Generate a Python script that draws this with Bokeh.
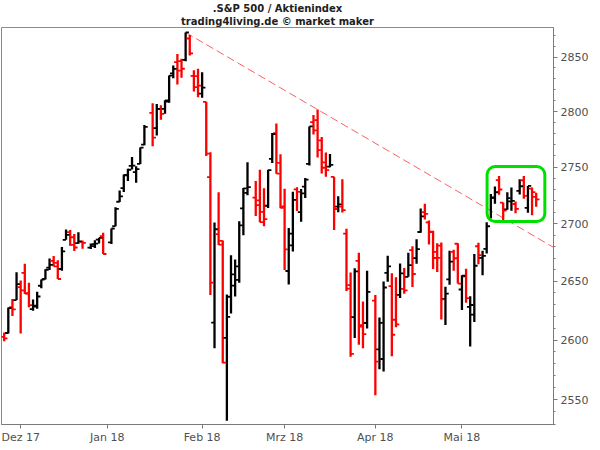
import numpy as np
from bokeh.plotting import figure
from bokeh.models import Range1d, FixedTicker, Title, BoxAnnotation, PrintfTickFormatter
from bokeh.embed import file_html
from bokeh.resources import INLINE

# ---------------- data ----------------
dates = [
    "2017-11-27", "2017-11-28", "2017-11-29", "2017-11-30",
    "2017-12-01", "2017-12-04", "2017-12-05", "2017-12-06", "2017-12-07", "2017-12-08",
    "2017-12-11", "2017-12-12", "2017-12-13", "2017-12-14", "2017-12-15",
    "2017-12-18", "2017-12-19", "2017-12-20", "2017-12-21", "2017-12-22",
    "2017-12-26", "2017-12-27", "2017-12-28", "2017-12-29",
    "2018-01-02", "2018-01-03", "2018-01-04", "2018-01-05",
    "2018-01-08", "2018-01-09", "2018-01-10", "2018-01-11", "2018-01-12",
    "2018-01-16", "2018-01-17", "2018-01-18", "2018-01-19",
    "2018-01-22", "2018-01-23", "2018-01-24", "2018-01-25", "2018-01-26",
    "2018-01-29", "2018-01-30", "2018-01-31",
    "2018-02-01", "2018-02-02",
    "2018-02-05", "2018-02-06", "2018-02-07", "2018-02-08", "2018-02-09",
    "2018-02-12", "2018-02-13", "2018-02-14", "2018-02-15", "2018-02-16",
    "2018-02-20", "2018-02-21", "2018-02-22", "2018-02-23",
    "2018-02-26", "2018-02-27", "2018-02-28",
    "2018-03-01", "2018-03-02",
    "2018-03-05", "2018-03-06", "2018-03-07", "2018-03-08", "2018-03-09",
    "2018-03-12", "2018-03-13", "2018-03-14", "2018-03-15", "2018-03-16",
    "2018-03-19", "2018-03-20", "2018-03-21", "2018-03-22", "2018-03-23",
    "2018-03-26", "2018-03-27", "2018-03-28", "2018-03-29",
    "2018-04-02", "2018-04-03", "2018-04-04", "2018-04-05", "2018-04-06",
    "2018-04-09", "2018-04-10", "2018-04-11", "2018-04-12", "2018-04-13",
    "2018-04-16", "2018-04-17", "2018-04-18", "2018-04-19", "2018-04-20",
    "2018-04-23", "2018-04-24", "2018-04-25", "2018-04-26", "2018-04-27",
    "2018-04-30",
    "2018-05-01", "2018-05-02", "2018-05-03", "2018-05-04",
    "2018-05-07", "2018-05-08", "2018-05-09", "2018-05-10", "2018-05-11",
    "2018-05-14", "2018-05-15", "2018-05-16", "2018-05-17", "2018-05-18",
    "2018-05-21", "2018-05-22", "2018-05-23", "2018-05-24", "2018-05-25",
]

opens = [
    2602.66, 2605.94, 2627.82, 2633.93,
    2645.10, 2657.19, 2639.78, 2626.24, 2628.38, 2646.21, 2652.19, 2661.73, 2667.59, 2665.87,
    2660.63, 2685.92, 2692.71, 2688.18, 2683.02, 2684.22, 2679.09, 2682.10, 2686.10, 2689.15,
    2683.73, 2697.85, 2719.31, 2731.33, 2742.67, 2751.15, 2745.55, 2752.97, 2770.18, 2798.96,
    2784.99, 2802.40, 2802.60, 2809.16, 2835.05, 2845.42, 2846.24, 2847.48, 2867.23, 2832.74,
    2832.41,
    2816.45, 2808.92, 2741.06, 2614.78, 2690.95, 2685.01, 2601.78, 2636.75, 2646.27, 2651.21,
    2713.46, 2727.14, 2722.99, 2720.53, 2710.42, 2715.80, 2757.37, 2780.45, 2753.78,
    2715.22, 2658.89, 2681.06, 2730.18, 2710.18, 2732.75, 2752.91, 2790.54, 2792.31, 2774.06,
    2754.27, 2750.57, 2741.38, 2715.05, 2714.99, 2691.36, 2646.71, 2619.35, 2667.57, 2611.30,
    2614.41,
    2633.45, 2592.17, 2584.04, 2657.36, 2645.82, 2617.18, 2638.41, 2643.56, 2653.83, 2676.90,
    2670.10, 2692.74, 2710.11, 2701.16, 2692.56, 2675.40, 2680.80, 2634.92, 2651.65, 2675.47,
    2682.51,
    2642.96, 2654.24, 2628.08, 2621.45, 2680.34, 2670.26, 2678.12, 2705.02, 2722.70, 2738.47,
    2718.59, 2712.62, 2719.71, 2717.35, 2729.00, 2738.34, 2713.98, 2730.94, 2723.60,
]

highs = [
    2606.41, 2627.69, 2634.89, 2657.74,
    2650.62, 2665.19, 2648.72, 2634.41, 2640.99, 2651.65, 2660.33, 2669.72, 2671.88, 2668.09,
    2679.63, 2694.97, 2694.44, 2691.01, 2692.64, 2685.35, 2682.74, 2685.64, 2687.66, 2692.12,
    2695.89, 2714.37, 2729.29, 2743.45, 2748.51, 2759.14, 2750.80, 2767.56, 2787.85, 2807.54,
    2807.04, 2805.83, 2810.33, 2833.03, 2842.24, 2852.97, 2848.56, 2872.87, 2870.62, 2837.75,
    2839.26,
    2835.96, 2808.92, 2763.39, 2701.04, 2727.67, 2685.27, 2638.67, 2672.61, 2668.84, 2702.10,
    2731.51, 2754.42, 2737.60, 2747.75, 2731.26, 2747.76, 2780.64, 2789.15, 2761.52,
    2730.89, 2696.25, 2728.09, 2732.08, 2730.60, 2740.45, 2786.57, 2796.98, 2801.90, 2777.11,
    2763.03, 2761.85, 2741.38, 2724.22, 2739.14, 2695.68, 2657.67, 2661.36, 2674.78, 2632.65,
    2659.07,
    2638.30, 2619.14, 2649.86, 2672.08, 2656.88, 2653.55, 2665.45, 2661.43, 2674.72, 2680.26,
    2686.49, 2713.34, 2717.49, 2702.84, 2693.94, 2682.86, 2683.55, 2645.30, 2676.48, 2677.35,
    2682.87,
    2655.27, 2660.87, 2637.14, 2673.61, 2683.35, 2676.34, 2701.27, 2726.11, 2732.86, 2742.10,
    2718.59, 2727.76, 2731.96, 2719.50, 2739.19, 2742.24, 2733.33, 2731.97, 2727.36,
]

lows = [
    2598.87, 2605.44, 2620.32, 2633.93,
    2605.52, 2639.03, 2627.73, 2624.75, 2626.53, 2644.10, 2651.47, 2659.78, 2662.85, 2652.01,
    2659.14, 2685.92, 2680.74, 2676.11, 2682.40, 2678.13, 2677.96, 2678.91, 2682.69, 2673.61,
    2682.36, 2697.77, 2719.07, 2727.92, 2737.60, 2747.86, 2736.06, 2752.78, 2769.64, 2768.64,
    2778.38, 2792.56, 2798.08, 2808.12, 2830.59, 2824.81, 2830.94, 2846.18, 2851.48, 2818.27,
    2813.04,
    2812.70, 2759.97, 2638.17, 2593.07, 2681.33, 2580.56, 2532.69, 2622.45, 2637.08, 2648.87,
    2689.82, 2725.11, 2706.76, 2701.29, 2697.77, 2713.74, 2753.78, 2744.22, 2713.54,
    2659.65, 2647.32, 2675.75, 2711.26, 2701.74, 2722.65, 2751.54, 2779.26, 2758.68, 2744.38,
    2741.47, 2749.97, 2694.59, 2710.05, 2709.79, 2641.59, 2585.89, 2601.81, 2596.12, 2593.06,
    2609.72,
    2553.80, 2575.49, 2573.61, 2649.58, 2586.27, 2610.79, 2635.78, 2639.25, 2653.83, 2645.05,
    2665.16, 2692.05, 2703.63, 2681.90, 2660.61, 2657.99, 2617.32, 2612.67, 2647.16, 2659.01,
    2648.04,
    2625.41, 2631.70, 2594.62, 2615.32, 2664.70, 2655.20, 2674.14, 2704.54, 2717.45, 2725.47,
    2701.91, 2712.17, 2711.36, 2709.18, 2725.70, 2721.88, 2709.54, 2707.38, 2714.99,
]

closes = [
    2601.42, 2627.04, 2626.07, 2647.58,
    2642.22, 2639.44, 2629.57, 2629.27, 2636.98, 2651.50, 2659.99, 2664.11, 2662.85, 2652.01,
    2675.81, 2690.16, 2681.47, 2679.25, 2684.57, 2683.34, 2680.50, 2682.62, 2687.54, 2673.61,
    2695.81, 2713.06, 2723.99, 2743.15, 2747.71, 2751.29, 2748.23, 2767.56, 2786.24, 2776.42,
    2802.56, 2798.03, 2810.30, 2832.97, 2839.13, 2837.54, 2839.25, 2872.87, 2853.53, 2822.43,
    2823.81,
    2821.98, 2762.13, 2648.94, 2695.14, 2681.66, 2581.00, 2619.55, 2656.00, 2662.94, 2698.63,
    2731.20, 2732.22, 2716.26, 2701.33, 2703.96, 2747.30, 2779.60, 2744.28, 2713.83,
    2677.67, 2691.25, 2720.94, 2728.12, 2726.80, 2738.97, 2786.57, 2783.02, 2765.31, 2749.48,
    2747.33, 2752.01, 2712.92, 2716.94, 2711.93, 2643.69, 2588.26, 2658.55, 2612.62, 2605.00,
    2640.87,
    2581.88, 2614.45, 2644.69, 2662.84, 2604.47, 2613.16, 2656.87, 2642.19, 2663.99, 2656.30,
    2677.84, 2706.39, 2708.64, 2693.13, 2670.14, 2670.29, 2634.56, 2639.40, 2666.94, 2669.91,
    2648.05,
    2654.80, 2635.67, 2629.73, 2663.42, 2672.63, 2671.92, 2697.79, 2723.07, 2727.72, 2730.13,
    2711.45, 2722.46, 2720.13, 2712.97, 2733.01, 2724.44, 2733.29, 2727.76, 2721.33,
]

month_ticks = ["2017-12-01", "2018-01-01", "2018-02-01", "2018-03-01", "2018-04-02", "2018-05-01"]
month_labels = ["Dez 17", "Jan 18", "Feb 18", "Mrz 18", "Apr 18", "Mai 18"]
price_ticks = [2550, 2600, 2650, 2700, 2750, 2800, 2850]
price_minor = list(range(2530, 2880, 10))

title_line1 = ".S&P 500 / Aktienindex"
title_line2 = "trading4living.de \u00a9 market maker"

trend_from = "2018-01-26"
trend_via = "2018-03-13"
box_from = "2018-05-10"
box_to = "2018-05-25"

assert len(dates) == len(opens) == len(highs) == len(lows) == len(closes)

# weekday index axis (holidays stay as gaps)
origin = dates[0]


def widx(d):
    return int(np.busday_count(origin, d))


xs = np.array([widx(d) for d in dates], dtype=float)
o = np.array(opens); h = np.array(highs); l = np.array(lows); c = np.array(closes)
colors = ["#000000" if cc >= oo else "#ff0000" for oo, cc in zip(o, c)]

X0, X1 = -0.65, 133.2
p = figure(frame_width=552, frame_height=397, output_backend="svg", toolbar_location=None,
           y_axis_type="log", y_axis_location="right",
           x_range=Range1d(X0, X1), y_range=Range1d(2529.7, 2877.5),
           min_border_left=1, min_border_top=0, min_border_bottom=0, min_border_right=0)
try:
    p.title = None
except Exception:
    p.title.text = ""

p.add_layout(Title(text=title_line2, align="center", text_font="DejaVu Sans",
                   text_font_size="10px", text_font_style="bold", text_color="#202020",
                   standoff=1, offset=14), "above")
p.add_layout(Title(text=title_line1, align="center", text_font="DejaVu Sans",
                   text_font_size="10px", text_font_style="bold", text_color="#202020",
                   standoff=0, offset=4), "above")

p.background_fill_color = "white"
p.border_fill_color = "white"
p.outline_line_color = "#8a8a8a"
p.outline_line_width = 1
p.xgrid.visible = False
p.ygrid.visible = False

# axes
p.yaxis.ticker = FixedTicker(ticks=price_ticks, minor_ticks=price_minor)
p.yaxis.formatter = PrintfTickFormatter(format="%d")
p.xaxis.ticker = FixedTicker(ticks=[widx(d) for d in month_ticks])
p.xaxis.major_label_overrides = {widx(d): lab for d, lab in zip(month_ticks, month_labels)}
for ax in (p.xaxis[0], p.yaxis[0]):
    ax.axis_label = None
    ax.axis_line_color = "#7a7a7a"
    ax.major_tick_line_color = "#7a7a7a"
    ax.major_tick_in = 0
    ax.major_tick_out = 4
    ax.major_label_text_font = "DejaVu Sans"
    ax.major_label_text_font_size = "11px"
    ax.major_label_text_color = "#505050"
    ax.major_label_standoff = 3
p.yaxis.minor_tick_line_color = "#7a7a7a"
p.yaxis.minor_tick_in = 0
p.yaxis.minor_tick_out = 2
p.xaxis.minor_tick_line_color = None
p.xaxis.major_label_standoff = 2

# trend line through two highs, extended to right edge (log space)
i0 = dates.index(trend_from); i1 = dates.index(trend_via)
slope = (np.log(h[i1]) - np.log(h[i0])) / (xs[i1] - xs[i0])
y_end = h[i0] * np.exp(slope * (X1 - xs[i0]))
p.line([xs[i0], X1], [h[i0], y_end], line_color="#ff5f5f", line_width=1, line_dash="8 4")

# OHLC bars
tick = 0.8
p.segment(x0=xs, y0=l, x1=xs, y1=h, line_color=colors, line_width=2.3)
p.segment(x0=xs - tick, y0=o, x1=xs, y1=o, line_color=colors, line_width=1.8)
p.segment(x0=xs, y0=c, x1=xs + tick, y1=c, line_color=colors, line_width=1.8)

# highlight box
b0 = dates.index(box_from); b1 = dates.index(box_to)
p.add_layout(BoxAnnotation(left=xs[b0] - 0.9, right=xs[b1] + 2.1,
                           bottom=2702, top=2750.5,
                           fill_alpha=0, line_color="#00e000", line_alpha=1.0,
                           line_width=3, border_radius=8))

open("out.html", "w").write(file_html(p, INLINE))
